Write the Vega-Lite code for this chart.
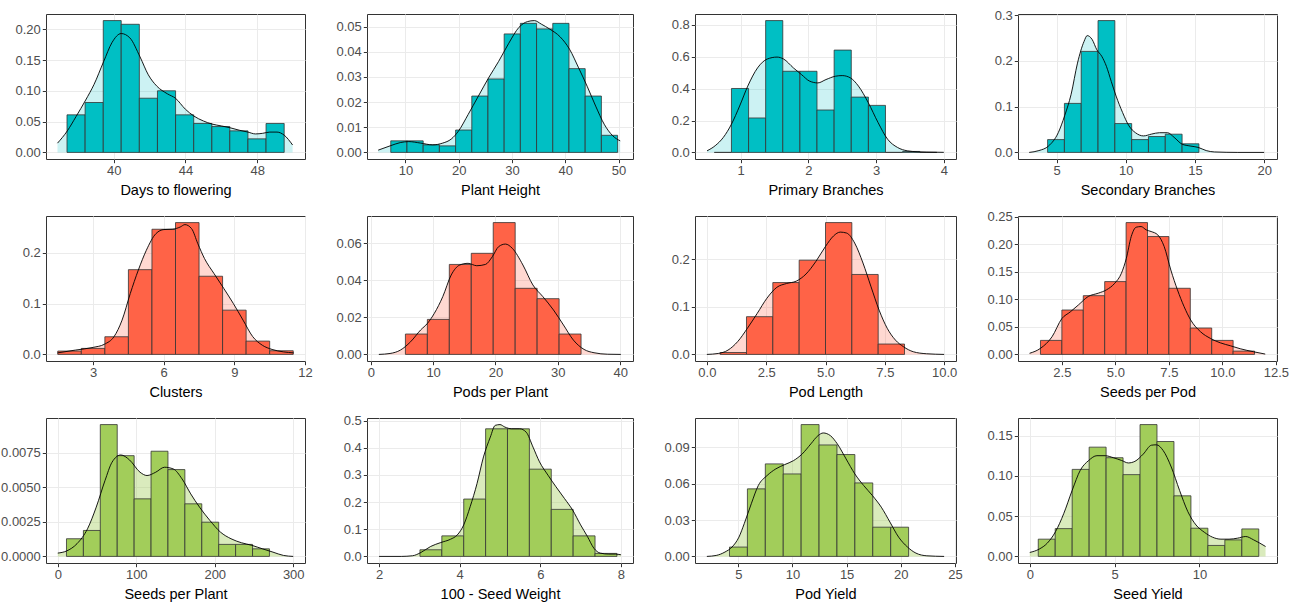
{
"$schema": "https://vega.github.io/schema/vega-lite/v6.json",
"padding": {"left": 0, "top": 8, "right": 0, "bottom": 1},
"columns": 4,
"spacing": {"row": 57, "column": 62},
"bounds": "flush",
"align": "each",
"config": {
  "view": {"stroke": "#333333", "strokeWidth": 1},
  "axis": {"grid": true, "gridColor": "#EBEBEB", "gridWidth": 1, "domain": false, "tickColor": "#333333", "tickSize": 3.7, "tickWidth": 1, "labelColor": "#4D4D4D", "labelFont": "Liberation Sans", "labelFontSize": 13, "labelPadding": 2, "labelFlush": false, "labelOverlap": false, "titleFont": "Liberation Sans", "titleFontSize": 14.5, "titleFontWeight": "normal", "titleColor": "#000000", "titlePadding": 6}
},
"datasets": {
"bars": [
{"p":1,"a":37.4,"b":38.41,"h":0.061},{"p":1,"a":38.41,"b":39.42,"h":0.081},{"p":1,"a":39.42,"b":40.42,"h":0.214},{"p":1,"a":40.42,"b":41.43,"h":0.208},{"p":1,"a":41.43,"b":42.44,"h":0.088},{"p":1,"a":42.44,"b":43.45,"h":0.1},{"p":1,"a":43.45,"b":44.46,"h":0.061},{"p":1,"a":44.46,"b":45.47,"h":0.047},{"p":1,"a":45.47,"b":46.47,"h":0.042},{"p":1,"a":46.47,"b":47.48,"h":0.035},{"p":1,"a":47.48,"b":48.49,"h":0.022},{"p":1,"a":48.49,"b":49.5,"h":0.047},
{"p":2,"a":7.26,"b":10.3,"h":0.0046},{"p":2,"a":10.3,"b":13.34,"h":0.0046},{"p":2,"a":13.34,"b":16.38,"h":0.003},{"p":2,"a":16.38,"b":19.42,"h":0.0026},{"p":2,"a":19.42,"b":22.46,"h":0.0089},{"p":2,"a":22.46,"b":25.49,"h":0.0224},{"p":2,"a":25.49,"b":28.53,"h":0.0292},{"p":2,"a":28.53,"b":31.57,"h":0.0471},{"p":2,"a":31.57,"b":34.61,"h":0.0513},{"p":2,"a":34.61,"b":37.65,"h":0.0491},{"p":2,"a":37.65,"b":40.69,"h":0.0513},{"p":2,"a":40.69,"b":43.73,"h":0.0333},{"p":2,"a":43.73,"b":46.77,"h":0.0224},{"p":2,"a":46.77,"b":49.81,"h":0.0068},
{"p":3,"a":0.612,"b":0.865,"h":0},{"p":3,"a":0.865,"b":1.118,"h":0.401},{"p":3,"a":1.118,"b":1.37,"h":0.216},{"p":3,"a":1.37,"b":1.623,"h":0.827},{"p":3,"a":1.623,"b":1.876,"h":0.509},{"p":3,"a":1.876,"b":2.128,"h":0.509},{"p":3,"a":2.128,"b":2.381,"h":0.266},{"p":3,"a":2.381,"b":2.634,"h":0.642},{"p":3,"a":2.634,"b":2.887,"h":0.347},{"p":3,"a":2.887,"b":3.139,"h":0.295},{"p":3,"a":3.139,"b":3.392,"h":0},{"p":3,"a":3.392,"b":3.644,"h":0.006},{"p":3,"a":3.644,"b":3.897,"h":0},
{"p":4,"a":4.35,"b":5.565,"h":0.028},{"p":4,"a":5.565,"b":6.78,"h":0.107},{"p":4,"a":6.78,"b":7.995,"h":0.2205},{"p":4,"a":7.995,"b":9.21,"h":0.2878},{"p":4,"a":9.21,"b":10.425,"h":0.063},{"p":4,"a":10.425,"b":11.64,"h":0.028},{"p":4,"a":11.64,"b":12.855,"h":0.0347},{"p":4,"a":12.855,"b":14.07,"h":0.0398},{"p":4,"a":14.07,"b":15.285,"h":0.0188},
{"p":5,"a":1.5,"b":2.5,"h":0.0066},{"p":5,"a":2.5,"b":3.5,"h":0.0118},{"p":5,"a":3.5,"b":4.5,"h":0.0348},{"p":5,"a":4.5,"b":5.5,"h":0.167},{"p":5,"a":5.5,"b":6.5,"h":0.2466},{"p":5,"a":6.5,"b":7.5,"h":0.2597},{"p":5,"a":7.5,"b":8.5,"h":0.154},{"p":5,"a":8.5,"b":9.5,"h":0.0872},{"p":5,"a":9.5,"b":10.5,"h":0.0262},{"p":5,"a":10.5,"b":11.5,"h":0.0072},
{"p":6,"a":5.56,"b":9.08,"h":0.011},{"p":6,"a":9.08,"b":12.6,"h":0.0189},{"p":6,"a":12.6,"b":16.12,"h":0.0486},{"p":6,"a":16.12,"b":19.64,"h":0.0546},{"p":6,"a":19.64,"b":23.16,"h":0.0712},{"p":6,"a":23.16,"b":26.68,"h":0.0357},{"p":6,"a":26.68,"b":30.2,"h":0.0301},{"p":6,"a":30.2,"b":33.72,"h":0.011},
{"p":7,"a":0.56,"b":1.67,"h":0.004},{"p":7,"a":1.67,"b":2.78,"h":0.0793},{"p":7,"a":2.78,"b":3.89,"h":0.151},{"p":7,"a":3.89,"b":5.0,"h":0.198},{"p":7,"a":5.0,"b":6.11,"h":0.277},{"p":7,"a":6.11,"b":7.22,"h":0.168},{"p":7,"a":7.22,"b":8.33,"h":0.0218},
{"p":8,"a":1.5,"b":2.5,"h":0.0254},{"p":8,"a":2.5,"b":3.5,"h":0.0805},{"p":8,"a":3.5,"b":4.5,"h":0.1065},{"p":8,"a":4.5,"b":5.5,"h":0.132},{"p":8,"a":5.5,"b":6.5,"h":0.239},{"p":8,"a":6.5,"b":7.5,"h":0.2137},{"p":8,"a":7.5,"b":8.5,"h":0.1199},{"p":8,"a":8.5,"b":9.5,"h":0.0478},{"p":8,"a":9.5,"b":10.5,"h":0.0254},{"p":8,"a":10.5,"b":11.5,"h":0.006},
{"p":9,"a":11.1,"b":32.65,"h":0.00128},{"p":9,"a":32.65,"b":54.2,"h":0.00188},{"p":9,"a":54.2,"b":75.75,"h":0.00955},{"p":9,"a":75.75,"b":97.3,"h":0.0073},{"p":9,"a":97.3,"b":118.85,"h":0.00417},{"p":9,"a":118.85,"b":140.4,"h":0.00762},{"p":9,"a":140.4,"b":161.95,"h":0.00629},{"p":9,"a":161.95,"b":183.5,"h":0.00381},{"p":9,"a":183.5,"b":205.05,"h":0.00248},{"p":9,"a":205.05,"b":226.6,"h":0.00087},{"p":9,"a":226.6,"b":248.15,"h":0.00087},{"p":9,"a":248.15,"b":269.7,"h":0.00055},
{"p":10,"a":3.014,"b":3.557,"h":0.0244},{"p":10,"a":3.557,"b":4.1,"h":0.0756},{"p":10,"a":4.1,"b":4.643,"h":0.211},{"p":10,"a":4.643,"b":5.186,"h":0.4695},{"p":10,"a":5.186,"b":5.729,"h":0.4695},{"p":10,"a":5.729,"b":6.272,"h":0.321},{"p":10,"a":6.272,"b":6.815,"h":0.173},{"p":10,"a":6.815,"b":7.358,"h":0.0756},{"p":10,"a":7.358,"b":7.901,"h":0.011},
{"p":11,"a":4.19,"b":5.843,"h":0.0077},{"p":11,"a":5.843,"b":7.496,"h":0.0557},{"p":11,"a":7.496,"b":9.149,"h":0.0763},{"p":11,"a":9.149,"b":10.802,"h":0.068},{"p":11,"a":10.802,"b":12.455,"h":0.1087},{"p":11,"a":12.455,"b":14.108,"h":0.0919},{"p":11,"a":14.108,"b":15.761,"h":0.084},{"p":11,"a":15.761,"b":17.414,"h":0.0606},{"p":11,"a":17.414,"b":19.067,"h":0.0241},{"p":11,"a":19.067,"b":20.72,"h":0.0241},
{"p":12,"a":0.5,"b":1.5,"h":0.0214},{"p":12,"a":1.5,"b":2.5,"h":0.0345},{"p":12,"a":2.5,"b":3.5,"h":0.108},{"p":12,"a":3.5,"b":4.5,"h":0.1356},{"p":12,"a":4.5,"b":5.5,"h":0.1225},{"p":12,"a":5.5,"b":6.5,"h":0.1015},{"p":12,"a":6.5,"b":7.5,"h":0.1636},{"p":12,"a":7.5,"b":8.5,"h":0.1426},{"p":12,"a":8.5,"b":9.5,"h":0.0752},{"p":12,"a":9.5,"b":10.5,"h":0.035},{"p":12,"a":10.5,"b":11.5,"h":0.0136},{"p":12,"a":11.5,"b":12.5,"h":0.0205},{"p":12,"a":12.5,"b":13.5,"h":0.0341}
],
"dens": [
{"p":1,"x":36.87,"y":0.015},{"p":1,"x":37.42,"y":0.035},{"p":1,"x":37.9,"y":0.058},{"p":1,"x":38.44,"y":0.085},{"p":1,"x":38.9,"y":0.11},{"p":1,"x":39.45,"y":0.148},{"p":1,"x":39.9,"y":0.178},{"p":1,"x":40.42,"y":0.193},{"p":1,"x":40.9,"y":0.186},{"p":1,"x":41.47,"y":0.155},{"p":1,"x":41.93,"y":0.126},{"p":1,"x":42.39,"y":0.108},{"p":1,"x":43.0,"y":0.095},{"p":1,"x":43.44,"y":0.088},{"p":1,"x":44.0,"y":0.07},{"p":1,"x":44.47,"y":0.059},{"p":1,"x":45.0,"y":0.051},{"p":1,"x":45.48,"y":0.046},{"p":1,"x":46.0,"y":0.043},{"p":1,"x":46.49,"y":0.04},{"p":1,"x":47.0,"y":0.036},{"p":1,"x":47.48,"y":0.033},{"p":1,"x":47.9,"y":0.03},{"p":1,"x":48.3,"y":0.031},{"p":1,"x":48.7,"y":0.033},{"p":1,"x":49.1,"y":0.033},{"p":1,"x":49.5,"y":0.028},{"p":1,"x":49.97,"y":0.012},
{"p":2,"x":4.9,"y":0.0009},{"p":2,"x":7.13,"y":0.0026},{"p":2,"x":9.04,"y":0.0039},{"p":2,"x":10.64,"y":0.0043},{"p":2,"x":12.87,"y":0.0037},{"p":2,"x":15.1,"y":0.003},{"p":2,"x":17.0,"y":0.0037},{"p":2,"x":18.6,"y":0.0053},{"p":2,"x":20,"y":0.0086},{"p":2,"x":21.78,"y":0.0151},{"p":2,"x":23.7,"y":0.0224},{"p":2,"x":25.6,"y":0.0296},{"p":2,"x":27.5,"y":0.0362},{"p":2,"x":29.4,"y":0.0434},{"p":2,"x":31.3,"y":0.0497},{"p":2,"x":32.9,"y":0.052},{"p":2,"x":34.2,"y":0.0524},{"p":2,"x":35.5,"y":0.051},{"p":2,"x":37.1,"y":0.049},{"p":2,"x":39.0,"y":0.046},{"p":2,"x":40.8,"y":0.041},{"p":2,"x":42.5,"y":0.0336},{"p":2,"x":44.1,"y":0.0263},{"p":2,"x":45.7,"y":0.0184},{"p":2,"x":47.3,"y":0.0112},{"p":2,"x":48.9,"y":0.0066},{"p":2,"x":50.3,"y":0.0046},
{"p":3,"x":0.505,"y":0.01},{"p":3,"x":0.625,"y":0.042},{"p":3,"x":0.745,"y":0.094},{"p":3,"x":0.865,"y":0.177},{"p":3,"x":0.986,"y":0.291},{"p":3,"x":1.106,"y":0.416},{"p":3,"x":1.25,"y":0.53},{"p":3,"x":1.394,"y":0.586},{"p":3,"x":1.538,"y":0.598},{"p":3,"x":1.635,"y":0.586},{"p":3,"x":1.78,"y":0.53},{"p":3,"x":1.9,"y":0.488},{"p":3,"x":2.02,"y":0.447},{"p":3,"x":2.14,"y":0.436},{"p":3,"x":2.26,"y":0.457},{"p":3,"x":2.4,"y":0.478},{"p":3,"x":2.5,"y":0.482},{"p":3,"x":2.62,"y":0.468},{"p":3,"x":2.74,"y":0.416},{"p":3,"x":2.885,"y":0.312},{"p":3,"x":3.03,"y":0.187},{"p":3,"x":3.17,"y":0.083},{"p":3,"x":3.317,"y":0.031},{"p":3,"x":3.46,"y":0.01},{"p":3,"x":3.606,"y":0.004},{"p":3,"x":3.75,"y":0.002},{"p":3,"x":4.0,"y":0.0005},
{"p":4,"x":3.02,"y":0},{"p":4,"x":3.72,"y":0.004},{"p":4,"x":4.42,"y":0.014},{"p":4,"x":5.12,"y":0.043},{"p":4,"x":5.58,"y":0.08},{"p":4,"x":6.05,"y":0.127},{"p":4,"x":6.51,"y":0.195},{"p":4,"x":6.98,"y":0.242},{"p":4,"x":7.21,"y":0.255},{"p":4,"x":7.56,"y":0.247},{"p":4,"x":7.91,"y":0.224},{"p":4,"x":8.26,"y":0.21},{"p":4,"x":8.6,"y":0.188},{"p":4,"x":8.95,"y":0.155},{"p":4,"x":9.3,"y":0.123},{"p":4,"x":9.77,"y":0.087},{"p":4,"x":10.23,"y":0.058},{"p":4,"x":10.7,"y":0.043},{"p":4,"x":11.28,"y":0.036},{"p":4,"x":11.86,"y":0.04},{"p":4,"x":12.44,"y":0.043},{"p":4,"x":13.02,"y":0.043},{"p":4,"x":13.49,"y":0.033},{"p":4,"x":14.07,"y":0.018},{"p":4,"x":14.65,"y":0.014},{"p":4,"x":15.23,"y":0.011},{"p":4,"x":15.81,"y":0.004},{"p":4,"x":16.4,"y":0.001},{"p":4,"x":18.1,"y":0},{"p":4,"x":20,"y":0},
{"p":5,"x":1.49,"y":0.003},{"p":5,"x":2.25,"y":0.0085},{"p":5,"x":3.0,"y":0.0138},{"p":5,"x":3.48,"y":0.02},{"p":5,"x":3.89,"y":0.035},{"p":5,"x":4.23,"y":0.0675},{"p":5,"x":4.58,"y":0.12},{"p":5,"x":4.92,"y":0.166},{"p":5,"x":5.26,"y":0.205},{"p":5,"x":5.67,"y":0.238},{"p":5,"x":6.01,"y":0.246},{"p":5,"x":6.36,"y":0.2466},{"p":5,"x":6.7,"y":0.251},{"p":5,"x":6.9,"y":0.2557},{"p":5,"x":7.18,"y":0.248},{"p":5,"x":7.45,"y":0.218},{"p":5,"x":7.73,"y":0.189},{"p":5,"x":8.14,"y":0.159},{"p":5,"x":8.55,"y":0.13},{"p":5,"x":8.96,"y":0.1},{"p":5,"x":9.37,"y":0.0675},{"p":5,"x":9.78,"y":0.035},{"p":5,"x":10.19,"y":0.018},{"p":5,"x":10.6,"y":0.0098},{"p":5,"x":11.08,"y":0.005},{"p":5,"x":11.52,"y":0.003},
{"p":6,"x":1.3,"y":0},{"p":6,"x":3.1,"y":0.0005},{"p":6,"x":4.74,"y":0.0023},{"p":6,"x":6.38,"y":0.0068},{"p":6,"x":8.0,"y":0.0132},{"p":6,"x":9.1,"y":0.0168},{"p":6,"x":10.2,"y":0.0222},{"p":6,"x":11.55,"y":0.0312},{"p":6,"x":12.9,"y":0.0429},{"p":6,"x":14.28,"y":0.0483},{"p":6,"x":15.6,"y":0.0492},{"p":6,"x":17.0,"y":0.0479},{"p":6,"x":18.4,"y":0.0486},{"p":6,"x":19.5,"y":0.0528},{"p":6,"x":20.5,"y":0.0582},{"p":6,"x":21.6,"y":0.0596},{"p":6,"x":22.7,"y":0.0573},{"p":6,"x":24.4,"y":0.0483},{"p":6,"x":26.0,"y":0.0375},{"p":6,"x":27.6,"y":0.0312},{"p":6,"x":29.3,"y":0.024},{"p":6,"x":30.9,"y":0.0159},{"p":6,"x":32.5,"y":0.0077},{"p":6,"x":34.2,"y":0.0027},{"p":6,"x":35.8,"y":0.0009},{"p":6,"x":38,"y":0.0001},{"p":6,"x":40.1,"y":0},
{"p":7,"x":0,"y":0},{"p":7,"x":0.48,"y":0.002},{"p":7,"x":0.89,"y":0.009},{"p":7,"x":1.3,"y":0.027},{"p":7,"x":1.71,"y":0.055},{"p":7,"x":2.12,"y":0.086},{"p":7,"x":2.53,"y":0.118},{"p":7,"x":2.95,"y":0.141},{"p":7,"x":3.36,"y":0.149},{"p":7,"x":3.77,"y":0.154},{"p":7,"x":4.18,"y":0.169},{"p":7,"x":4.59,"y":0.195},{"p":7,"x":5.0,"y":0.227},{"p":7,"x":5.34,"y":0.249},{"p":7,"x":5.62,"y":0.257},{"p":7,"x":5.89,"y":0.255},{"p":7,"x":6.23,"y":0.234},{"p":7,"x":6.58,"y":0.192},{"p":7,"x":6.92,"y":0.142},{"p":7,"x":7.26,"y":0.093},{"p":7,"x":7.6,"y":0.055},{"p":7,"x":7.95,"y":0.03},{"p":7,"x":8.29,"y":0.016},{"p":7,"x":8.7,"y":0.0056},{"p":7,"x":9.25,"y":0.0014},{"p":7,"x":10,"y":0},
{"p":8,"x":0.99,"y":0.002},{"p":8,"x":1.5,"y":0.011},{"p":8,"x":2.04,"y":0.032},{"p":8,"x":2.5,"y":0.065},{"p":8,"x":2.89,"y":0.077},{"p":8,"x":3.27,"y":0.0896},{"p":8,"x":3.73,"y":0.105},{"p":8,"x":4.2,"y":0.111},{"p":8,"x":4.58,"y":0.117},{"p":8,"x":4.97,"y":0.129},{"p":8,"x":5.28,"y":0.147},{"p":8,"x":5.51,"y":0.174},{"p":8,"x":5.74,"y":0.2137},{"p":8,"x":5.97,"y":0.2306},{"p":8,"x":6.2,"y":0.2318},{"p":8,"x":6.44,"y":0.2258},{"p":8,"x":6.67,"y":0.2228},{"p":8,"x":6.98,"y":0.2167},{"p":8,"x":7.28,"y":0.1955},{"p":8,"x":7.59,"y":0.153},{"p":8,"x":7.9,"y":0.117},{"p":8,"x":8.21,"y":0.0866},{"p":8,"x":8.52,"y":0.0623},{"p":8,"x":8.98,"y":0.041},{"p":8,"x":9.44,"y":0.029},{"p":8,"x":9.9,"y":0.021},{"p":8,"x":10.37,"y":0.0157},{"p":8,"x":10.83,"y":0.0103},{"p":8,"x":11.45,"y":0.0048},{"p":8,"x":12.0,"y":0.0006},
{"p":9,"x":0,"y":0.00024},{"p":9,"x":11.1,"y":0.00039},{"p":9,"x":24.5,"y":0.00092},{"p":9,"x":37.9,"y":0.002},{"p":9,"x":49,"y":0.00357},{"p":9,"x":60.2,"y":0.0055},{"p":9,"x":69.1,"y":0.00682},{"p":9,"x":80.3,"y":0.00735},{"p":9,"x":91.4,"y":0.00699},{"p":9,"x":104.8,"y":0.0061},{"p":9,"x":113.7,"y":0.00586},{"p":9,"x":124.8,"y":0.0061},{"p":9,"x":136,"y":0.00646},{"p":9,"x":147.1,"y":0.00634},{"p":9,"x":158.3,"y":0.00562},{"p":9,"x":169.4,"y":0.00453},{"p":9,"x":180.6,"y":0.00357},{"p":9,"x":193.9,"y":0.0026},{"p":9,"x":207.3,"y":0.00176},{"p":9,"x":220.7,"y":0.00128},{"p":9,"x":234,"y":0.00099},{"p":9,"x":247.4,"y":0.0008},{"p":9,"x":260.8,"y":0.00055},{"p":9,"x":274.2,"y":0.00031},{"p":9,"x":287.6,"y":0.00007},{"p":9,"x":300,"y":0},
{"p":10,"x":2.0,"y":0},{"p":10,"x":2.55,"y":0},{"p":10,"x":2.83,"y":0.0024},{"p":10,"x":3.04,"y":0.0146},{"p":10,"x":3.28,"y":0.0366},{"p":10,"x":3.53,"y":0.051},{"p":10,"x":3.77,"y":0.063},{"p":10,"x":3.94,"y":0.079},{"p":10,"x":4.1,"y":0.116},{"p":10,"x":4.26,"y":0.183},{"p":10,"x":4.43,"y":0.268},{"p":10,"x":4.59,"y":0.366},{"p":10,"x":4.76,"y":0.439},{"p":10,"x":4.88,"y":0.482},{"p":10,"x":5.0,"y":0.485},{"p":10,"x":5.12,"y":0.476},{"p":10,"x":5.29,"y":0.4695},{"p":10,"x":5.49,"y":0.4695},{"p":10,"x":5.65,"y":0.457},{"p":10,"x":5.82,"y":0.402},{"p":10,"x":5.98,"y":0.348},{"p":10,"x":6.19,"y":0.299},{"p":10,"x":6.39,"y":0.256},{"p":10,"x":6.6,"y":0.213},{"p":10,"x":6.8,"y":0.171},{"p":10,"x":7.0,"y":0.116},{"p":10,"x":7.17,"y":0.073},{"p":10,"x":7.33,"y":0.03},{"p":10,"x":7.49,"y":0.012},{"p":10,"x":7.7,"y":0.0085},{"p":10,"x":7.86,"y":0.0085},{"p":10,"x":8.0,"y":0.006},
{"p":11,"x":2.1,"y":0},{"p":11,"x":2.96,"y":0.0008},{"p":11,"x":3.77,"y":0.0036},{"p":11,"x":4.42,"y":0.0077},{"p":11,"x":5.06,"y":0.0159},{"p":11,"x":5.55,"y":0.027},{"p":11,"x":6.2,"y":0.0434},{"p":11,"x":6.85,"y":0.0585},{"p":11,"x":7.66,"y":0.0667},{"p":11,"x":8.47,"y":0.0722},{"p":11,"x":9.28,"y":0.0757},{"p":11,"x":10.1,"y":0.079},{"p":11,"x":10.9,"y":0.0845},{"p":11,"x":11.7,"y":0.0928},{"p":11,"x":12.36,"y":0.0996},{"p":11,"x":12.84,"y":0.1018},{"p":11,"x":13.5,"y":0.0996},{"p":11,"x":14.14,"y":0.0928},{"p":11,"x":14.95,"y":0.0804},{"p":11,"x":15.76,"y":0.068},{"p":11,"x":16.57,"y":0.0585},{"p":11,"x":17.38,"y":0.0502},{"p":11,"x":18.2,"y":0.0406},{"p":11,"x":19.0,"y":0.0283},{"p":11,"x":19.8,"y":0.0159},{"p":11,"x":20.62,"y":0.0077},{"p":11,"x":21.4,"y":0.0027},{"p":11,"x":22.4,"y":0.0005},{"p":11,"x":24.0,"y":0},
{"p":12,"x":0,"y":0.0049},{"p":12,"x":0.55,"y":0.009},{"p":12,"x":1.03,"y":0.0164},{"p":12,"x":1.52,"y":0.0308},{"p":12,"x":2.0,"y":0.053},{"p":12,"x":2.5,"y":0.082},{"p":12,"x":2.98,"y":0.107},{"p":12,"x":3.47,"y":0.119},{"p":12,"x":3.96,"y":0.125},{"p":12,"x":4.44,"y":0.125},{"p":12,"x":4.93,"y":0.1225},{"p":12,"x":5.42,"y":0.119},{"p":12,"x":5.81,"y":0.116},{"p":12,"x":6.2,"y":0.118},{"p":12,"x":6.69,"y":0.127},{"p":12,"x":7.17,"y":0.138},{"p":12,"x":7.47,"y":0.1385},{"p":12,"x":7.86,"y":0.1315},{"p":12,"x":8.34,"y":0.111},{"p":12,"x":8.83,"y":0.082},{"p":12,"x":9.32,"y":0.0555},{"p":12,"x":9.8,"y":0.039},{"p":12,"x":10.29,"y":0.03},{"p":12,"x":10.78,"y":0.0238},{"p":12,"x":11.27,"y":0.0214},{"p":12,"x":11.75,"y":0.0214},{"p":12,"x":12.24,"y":0.0226},{"p":12,"x":12.73,"y":0.0247},{"p":12,"x":13.2,"y":0.0205},{"p":12,"x":13.9,"y":0.0123}
]
},
"concat": [
{"width":259,"height":145,"resolve":{"axis":{"x":"independent","y":"independent"}},"layer":[
 {"data":{"name":"dens"},"transform":[{"filter":"datum.p==1"}],"mark":{"type":"area","color":"#00BFC4","opacity":0.2,"interpolate":"monotone"},
  "encoding":{"x":{"field":"x","type":"quantitative","scale":{"domain":[36.23,50.66],"nice":false,"zero":false},"axis":{"orient":"bottom","values":[40,44,48],"format":"d","title":"Days to flowering"}},
   "y":{"field":"y","type":"quantitative","scale":{"domain":[-0.0107,0.2247],"nice":false,"zero":false},"axis":{"orient":"left","values":[0,0.05,0.1,0.15,0.2],"format":".2f","title":null}},"y2":{"datum":0}}},
 {"data":{"name":"bars"},"transform":[{"filter":"datum.p==1"}],"mark":{"type":"rect","color":"#00BFC4","stroke":"#333333","strokeWidth":0.8},
  "encoding":{"x":{"field":"a","type":"quantitative","axis":{"values":[38,42,46,50],"labels":false,"ticks":false,"title":null,"gridColor":"#F2F2F2"}},"x2":{"field":"b"},
   "y":{"field":"h","type":"quantitative","axis":{"values":[0.025,0.075,0.125,0.175],"labels":false,"ticks":false,"title":null,"gridColor":"#F2F2F2"}},"y2":{"datum":0}}},
 {"data":{"name":"dens"},"transform":[{"filter":"datum.p==1"}],"mark":{"type":"line","color":"#000000","strokeWidth":0.9,"interpolate":"monotone"},
  "encoding":{"x":{"field":"x","type":"quantitative","axis":null},"y":{"field":"y","type":"quantitative","axis":null}}}
]},
{"width":266,"height":145,"resolve":{"axis":{"x":"independent","y":"independent"}},"layer":[
 {"data":{"name":"dens"},"transform":[{"filter":"datum.p==2"}],"mark":{"type":"area","color":"#00BFC4","opacity":0.2,"interpolate":"monotone"},
  "encoding":{"x":{"field":"x","type":"quantitative","scale":{"domain":[2.8,52.7],"nice":false,"zero":false},"axis":{"orient":"bottom","values":[10,20,30,40,50],"format":"d","title":"Plant Height"}},
   "y":{"field":"y","type":"quantitative","scale":{"domain":[-0.00262,0.05502],"nice":false,"zero":false},"axis":{"orient":"left","values":[0,0.01,0.02,0.03,0.04,0.05],"format":".2f","title":null}},"y2":{"datum":0}}},
 {"data":{"name":"bars"},"transform":[{"filter":"datum.p==2"}],"mark":{"type":"rect","color":"#00BFC4","stroke":"#333333","strokeWidth":0.8},
  "encoding":{"x":{"field":"a","type":"quantitative","axis":{"values":[5,15,25,35,45],"labels":false,"ticks":false,"title":null,"gridColor":"#F2F2F2"}},"x2":{"field":"b"},
   "y":{"field":"h","type":"quantitative","axis":{"values":[0.005,0.015,0.025,0.035,0.045],"labels":false,"ticks":false,"title":null,"gridColor":"#F2F2F2"}},"y2":{"datum":0}}},
 {"data":{"name":"dens"},"transform":[{"filter":"datum.p==2"}],"mark":{"type":"line","color":"#000000","strokeWidth":0.9,"interpolate":"monotone"},
  "encoding":{"x":{"field":"x","type":"quantitative","axis":null},"y":{"field":"y","type":"quantitative","axis":null}}}
]},
{"width":261,"height":145,"resolve":{"axis":{"x":"independent","y":"independent"}},"layer":[
 {"data":{"name":"dens"},"transform":[{"filter":"datum.p==3"}],"mark":{"type":"area","color":"#00BFC4","opacity":0.2,"interpolate":"monotone"},
  "encoding":{"x":{"field":"x","type":"quantitative","scale":{"domain":[0.327,4.18],"nice":false,"zero":false},"axis":{"orient":"bottom","values":[1,2,3,4],"format":"d","title":"Primary Branches"}},
   "y":{"field":"y","type":"quantitative","scale":{"domain":[-0.04135,0.86835],"nice":false,"zero":false},"axis":{"orient":"left","values":[0,0.2,0.4,0.6,0.8],"format":".1f","title":null}},"y2":{"datum":0}}},
 {"data":{"name":"bars"},"transform":[{"filter":"datum.p==3"}],"mark":{"type":"rect","color":"#00BFC4","stroke":"#333333","strokeWidth":0.8},
  "encoding":{"x":{"field":"a","type":"quantitative","axis":{"values":[0.5,1.5,2.5,3.5],"labels":false,"ticks":false,"title":null,"gridColor":"#F2F2F2"}},"x2":{"field":"b"},
   "y":{"field":"h","type":"quantitative","axis":{"values":[0.1,0.3,0.5,0.7],"labels":false,"ticks":false,"title":null,"gridColor":"#F2F2F2"}},"y2":{"datum":0}}},
 {"data":{"name":"dens"},"transform":[{"filter":"datum.p==3"}],"mark":{"type":"line","color":"#000000","strokeWidth":0.9,"interpolate":"monotone"},
  "encoding":{"x":{"field":"x","type":"quantitative","axis":null},"y":{"field":"y","type":"quantitative","axis":null}}}
]},
{"width":259,"height":145,"resolve":{"axis":{"x":"independent","y":"independent"}},"layer":[
 {"data":{"name":"dens"},"transform":[{"filter":"datum.p==4"}],"mark":{"type":"area","color":"#00BFC4","opacity":0.2,"interpolate":"monotone"},
  "encoding":{"x":{"field":"x","type":"quantitative","scale":{"domain":[2.21,20.93],"nice":false,"zero":false},"axis":{"orient":"bottom","values":[5,10,15,20],"format":"d","title":"Secondary Branches"}},
   "y":{"field":"y","type":"quantitative","scale":{"domain":[-0.01439,0.30219],"nice":false,"zero":false},"axis":{"orient":"left","values":[0,0.1,0.2,0.3],"format":".1f","title":null}},"y2":{"datum":0}}},
 {"data":{"name":"bars"},"transform":[{"filter":"datum.p==4"}],"mark":{"type":"rect","color":"#00BFC4","stroke":"#333333","strokeWidth":0.8},
  "encoding":{"x":{"field":"a","type":"quantitative","axis":{"values":[2.5,7.5,12.5,17.5],"labels":false,"ticks":false,"title":null,"gridColor":"#F2F2F2"}},"x2":{"field":"b"},
   "y":{"field":"h","type":"quantitative","axis":{"values":[0.05,0.15,0.25],"labels":false,"ticks":false,"title":null,"gridColor":"#F2F2F2"}},"y2":{"datum":0}}},
 {"data":{"name":"dens"},"transform":[{"filter":"datum.p==4"}],"mark":{"type":"line","color":"#000000","strokeWidth":0.9,"interpolate":"monotone"},
  "encoding":{"x":{"field":"x","type":"quantitative","axis":null},"y":{"field":"y","type":"quantitative","axis":null}}}
]},
{"width":259,"height":145,"resolve":{"axis":{"x":"independent","y":"independent"}},"layer":[
 {"data":{"name":"dens"},"transform":[{"filter":"datum.p==5"}],"mark":{"type":"area","color":"#FF6347","opacity":0.25,"interpolate":"monotone"},
  "encoding":{"x":{"field":"x","type":"quantitative","scale":{"domain":[1.0,12.0],"nice":false,"zero":false},"axis":{"orient":"bottom","values":[3,6,9,12],"format":"d","title":"Clusters"}},
   "y":{"field":"y","type":"quantitative","scale":{"domain":[-0.013,0.2727],"nice":false,"zero":false},"axis":{"orient":"left","values":[0,0.1,0.2],"format":".1f","title":null}},"y2":{"datum":0}}},
 {"data":{"name":"bars"},"transform":[{"filter":"datum.p==5"}],"mark":{"type":"rect","color":"#FF6347","stroke":"#333333","strokeWidth":0.8},
  "encoding":{"x":{"field":"a","type":"quantitative","axis":{"values":[1.5,4.5,7.5,10.5],"labels":false,"ticks":false,"title":null,"gridColor":"#F2F2F2"}},"x2":{"field":"b"},
   "y":{"field":"h","type":"quantitative","axis":{"values":[0.05,0.15,0.25],"labels":false,"ticks":false,"title":null,"gridColor":"#F2F2F2"}},"y2":{"datum":0}}},
 {"data":{"name":"dens"},"transform":[{"filter":"datum.p==5"}],"mark":{"type":"line","color":"#000000","strokeWidth":0.9,"interpolate":"monotone"},
  "encoding":{"x":{"field":"x","type":"quantitative","axis":null},"y":{"field":"y","type":"quantitative","axis":null}}}
]},
{"width":266,"height":145,"resolve":{"axis":{"x":"independent","y":"independent"}},"layer":[
 {"data":{"name":"dens"},"transform":[{"filter":"datum.p==6"}],"mark":{"type":"area","color":"#FF6347","opacity":0.25,"interpolate":"monotone"},
  "encoding":{"x":{"field":"x","type":"quantitative","scale":{"domain":[-0.6,42.05],"nice":false,"zero":false},"axis":{"orient":"bottom","values":[0,10,20,30,40],"format":"d","title":"Pods per Plant"}},
   "y":{"field":"y","type":"quantitative","scale":{"domain":[-0.00356,0.07476],"nice":false,"zero":false},"axis":{"orient":"left","values":[0,0.02,0.04,0.06],"format":".2f","title":null}},"y2":{"datum":0}}},
 {"data":{"name":"bars"},"transform":[{"filter":"datum.p==6"}],"mark":{"type":"rect","color":"#FF6347","stroke":"#333333","strokeWidth":0.8},
  "encoding":{"x":{"field":"a","type":"quantitative","axis":{"values":[5,15,25,35],"labels":false,"ticks":false,"title":null,"gridColor":"#F2F2F2"}},"x2":{"field":"b"},
   "y":{"field":"h","type":"quantitative","axis":{"values":[0.01,0.03,0.05,0.07],"labels":false,"ticks":false,"title":null,"gridColor":"#F2F2F2"}},"y2":{"datum":0}}},
 {"data":{"name":"dens"},"transform":[{"filter":"datum.p==6"}],"mark":{"type":"line","color":"#000000","strokeWidth":0.9,"interpolate":"monotone"},
  "encoding":{"x":{"field":"x","type":"quantitative","axis":null},"y":{"field":"y","type":"quantitative","axis":null}}}
]},
{"width":261,"height":145,"resolve":{"axis":{"x":"independent","y":"independent"}},"layer":[
 {"data":{"name":"dens"},"transform":[{"filter":"datum.p==7"}],"mark":{"type":"area","color":"#FF6347","opacity":0.25,"interpolate":"monotone"},
  "encoding":{"x":{"field":"x","type":"quantitative","scale":{"domain":[-0.5,10.5],"nice":false,"zero":false},"axis":{"orient":"bottom","values":[0,2.5,5,7.5,10],"format":".1f","title":"Pod Length"}},
   "y":{"field":"y","type":"quantitative","scale":{"domain":[-0.01385,0.29085],"nice":false,"zero":false},"axis":{"orient":"left","values":[0,0.1,0.2],"format":".1f","title":null}},"y2":{"datum":0}}},
 {"data":{"name":"bars"},"transform":[{"filter":"datum.p==7"}],"mark":{"type":"rect","color":"#FF6347","stroke":"#333333","strokeWidth":0.8},
  "encoding":{"x":{"field":"a","type":"quantitative","axis":{"values":[1.25,3.75,6.25,8.75],"labels":false,"ticks":false,"title":null,"gridColor":"#F2F2F2"}},"x2":{"field":"b"},
   "y":{"field":"h","type":"quantitative","axis":{"values":[0.05,0.15,0.25],"labels":false,"ticks":false,"title":null,"gridColor":"#F2F2F2"}},"y2":{"datum":0}}},
 {"data":{"name":"dens"},"transform":[{"filter":"datum.p==7"}],"mark":{"type":"line","color":"#000000","strokeWidth":0.9,"interpolate":"monotone"},
  "encoding":{"x":{"field":"x","type":"quantitative","axis":null},"y":{"field":"y","type":"quantitative","axis":null}}}
]},
{"width":259,"height":145,"resolve":{"axis":{"x":"independent","y":"independent"}},"layer":[
 {"data":{"name":"dens"},"transform":[{"filter":"datum.p==8"}],"mark":{"type":"area","color":"#FF6347","opacity":0.25,"interpolate":"monotone"},
  "encoding":{"x":{"field":"x","type":"quantitative","scale":{"domain":[0.45,12.55],"nice":false,"zero":false},"axis":{"orient":"bottom","values":[2.5,5,7.5,10,12.5],"format":".1f","title":"Seeds per Pod"}},
   "y":{"field":"y","type":"quantitative","scale":{"domain":[-0.01195,0.25095],"nice":false,"zero":false},"axis":{"orient":"left","values":[0,0.05,0.1,0.15,0.2,0.25],"format":".2f","title":null}},"y2":{"datum":0}}},
 {"data":{"name":"bars"},"transform":[{"filter":"datum.p==8"}],"mark":{"type":"rect","color":"#FF6347","stroke":"#333333","strokeWidth":0.8},
  "encoding":{"x":{"field":"a","type":"quantitative","axis":{"values":[1.25,3.75,6.25,8.75,11.25],"labels":false,"ticks":false,"title":null,"gridColor":"#F2F2F2"}},"x2":{"field":"b"},
   "y":{"field":"h","type":"quantitative","axis":{"values":[0.025,0.075,0.125,0.175,0.225],"labels":false,"ticks":false,"title":null,"gridColor":"#F2F2F2"}},"y2":{"datum":0}}},
 {"data":{"name":"dens"},"transform":[{"filter":"datum.p==8"}],"mark":{"type":"line","color":"#000000","strokeWidth":0.9,"interpolate":"monotone"},
  "encoding":{"x":{"field":"x","type":"quantitative","axis":null},"y":{"field":"y","type":"quantitative","axis":null}}}
]},
{"width":259,"height":145,"resolve":{"axis":{"x":"independent","y":"independent"}},"layer":[
 {"data":{"name":"dens"},"transform":[{"filter":"datum.p==9"}],"mark":{"type":"area","color":"#A2CD5A","opacity":0.4,"interpolate":"monotone"},
  "encoding":{"x":{"field":"x","type":"quantitative","scale":{"domain":[-15,315],"nice":false,"zero":false},"axis":{"orient":"bottom","values":[0,100,200,300],"format":"d","title":"Seeds per Plant"}},
   "y":{"field":"y","type":"quantitative","scale":{"domain":[-0.0004775,0.0100275],"nice":false,"zero":false},"axis":{"orient":"left","values":[0,0.0025,0.005,0.0075],"format":".4f","title":null}},"y2":{"datum":0}}},
 {"data":{"name":"bars"},"transform":[{"filter":"datum.p==9"}],"mark":{"type":"rect","color":"#A2CD5A","stroke":"#333333","strokeWidth":0.8},
  "encoding":{"x":{"field":"a","type":"quantitative","axis":{"values":[50,150,250],"labels":false,"ticks":false,"title":null,"gridColor":"#F2F2F2"}},"x2":{"field":"b"},
   "y":{"field":"h","type":"quantitative","axis":{"values":[0.00125,0.00375,0.00625,0.00875],"labels":false,"ticks":false,"title":null,"gridColor":"#F2F2F2"}},"y2":{"datum":0}}},
 {"data":{"name":"dens"},"transform":[{"filter":"datum.p==9"}],"mark":{"type":"line","color":"#000000","strokeWidth":0.9,"interpolate":"monotone"},
  "encoding":{"x":{"field":"x","type":"quantitative","axis":null},"y":{"field":"y","type":"quantitative","axis":null}}}
]},
{"width":266,"height":145,"resolve":{"axis":{"x":"independent","y":"independent"}},"layer":[
 {"data":{"name":"dens"},"transform":[{"filter":"datum.p==10"}],"mark":{"type":"area","color":"#A2CD5A","opacity":0.4,"interpolate":"monotone"},
  "encoding":{"x":{"field":"x","type":"quantitative","scale":{"domain":[1.7,8.3],"nice":false,"zero":false},"axis":{"orient":"bottom","values":[2,4,6,8],"format":"d","title":"100 - Seed Weight"}},
   "y":{"field":"y","type":"quantitative","scale":{"domain":[-0.02425,0.50925],"nice":false,"zero":false},"axis":{"orient":"left","values":[0,0.1,0.2,0.3,0.4,0.5],"format":".1f","title":null}},"y2":{"datum":0}}},
 {"data":{"name":"bars"},"transform":[{"filter":"datum.p==10"}],"mark":{"type":"rect","color":"#A2CD5A","stroke":"#333333","strokeWidth":0.8},
  "encoding":{"x":{"field":"a","type":"quantitative","axis":{"values":[3,5,7],"labels":false,"ticks":false,"title":null,"gridColor":"#F2F2F2"}},"x2":{"field":"b"},
   "y":{"field":"h","type":"quantitative","axis":{"values":[0.05,0.15,0.25,0.35,0.45],"labels":false,"ticks":false,"title":null,"gridColor":"#F2F2F2"}},"y2":{"datum":0}}},
 {"data":{"name":"dens"},"transform":[{"filter":"datum.p==10"}],"mark":{"type":"line","color":"#000000","strokeWidth":0.9,"interpolate":"monotone"},
  "encoding":{"x":{"field":"x","type":"quantitative","axis":null},"y":{"field":"y","type":"quantitative","axis":null}}}
]},
{"width":261,"height":145,"resolve":{"axis":{"x":"independent","y":"independent"}},"layer":[
 {"data":{"name":"dens"},"transform":[{"filter":"datum.p==11"}],"mark":{"type":"area","color":"#A2CD5A","opacity":0.4,"interpolate":"monotone"},
  "encoding":{"x":{"field":"x","type":"quantitative","scale":{"domain":[1.005,25.095],"nice":false,"zero":false},"axis":{"orient":"bottom","values":[5,10,15,20,25],"format":"d","title":"Pod Yield"}},
   "y":{"field":"y","type":"quantitative","scale":{"domain":[-0.005435,0.114135],"nice":false,"zero":false},"axis":{"orient":"left","values":[0,0.03,0.06,0.09],"format":".2f","title":null}},"y2":{"datum":0}}},
 {"data":{"name":"bars"},"transform":[{"filter":"datum.p==11"}],"mark":{"type":"rect","color":"#A2CD5A","stroke":"#333333","strokeWidth":0.8},
  "encoding":{"x":{"field":"a","type":"quantitative","axis":{"values":[2.5,7.5,12.5,17.5,22.5],"labels":false,"ticks":false,"title":null,"gridColor":"#F2F2F2"}},"x2":{"field":"b"},
   "y":{"field":"h","type":"quantitative","axis":{"values":[0.015,0.045,0.075,0.105],"labels":false,"ticks":false,"title":null,"gridColor":"#F2F2F2"}},"y2":{"datum":0}}},
 {"data":{"name":"dens"},"transform":[{"filter":"datum.p==11"}],"mark":{"type":"line","color":"#000000","strokeWidth":0.9,"interpolate":"monotone"},
  "encoding":{"x":{"field":"x","type":"quantitative","axis":null},"y":{"field":"y","type":"quantitative","axis":null}}}
]},
{"width":259,"height":145,"resolve":{"axis":{"x":"independent","y":"independent"}},"layer":[
 {"data":{"name":"dens"},"transform":[{"filter":"datum.p==12"}],"mark":{"type":"area","color":"#A2CD5A","opacity":0.4,"interpolate":"monotone"},
  "encoding":{"x":{"field":"x","type":"quantitative","scale":{"domain":[-0.694,14.574],"nice":false,"zero":false},"axis":{"orient":"bottom","values":[0,5,10],"format":"d","title":"Seed Yield"}},
   "y":{"field":"y","type":"quantitative","scale":{"domain":[-0.00818,0.17178],"nice":false,"zero":false},"axis":{"orient":"left","values":[0,0.05,0.1,0.15],"format":".2f","title":null}},"y2":{"datum":0}}},
 {"data":{"name":"bars"},"transform":[{"filter":"datum.p==12"}],"mark":{"type":"rect","color":"#A2CD5A","stroke":"#333333","strokeWidth":0.8},
  "encoding":{"x":{"field":"a","type":"quantitative","axis":{"values":[2.5,7.5,12.5],"labels":false,"ticks":false,"title":null,"gridColor":"#F2F2F2"}},"x2":{"field":"b"},
   "y":{"field":"h","type":"quantitative","axis":{"values":[0.025,0.075,0.125],"labels":false,"ticks":false,"title":null,"gridColor":"#F2F2F2"}},"y2":{"datum":0}}},
 {"data":{"name":"dens"},"transform":[{"filter":"datum.p==12"}],"mark":{"type":"line","color":"#000000","strokeWidth":0.9,"interpolate":"monotone"},
  "encoding":{"x":{"field":"x","type":"quantitative","axis":null},"y":{"field":"y","type":"quantitative","axis":null}}}
]}
]
}
